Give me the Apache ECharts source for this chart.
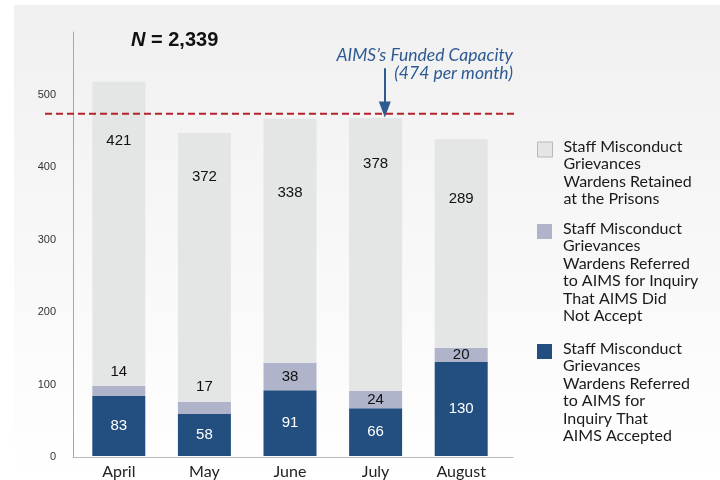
<!DOCTYPE html>
<html><head><meta charset="utf-8">
<script src="https://cdn.jsdelivr.net/npm/echarts@6/dist/echarts.min.js"></script>
<style>html,body{margin:0;padding:0;background:#fff}#c{width:720px;height:480px}</style>
</head><body><div id="c"></div>
<script>
// ---- data ----
const months = ['April', 'May', 'June', 'July', 'August'];
const accepted = [83, 58, 91, 66, 130];
const notAccepted = [14, 17, 38, 24, 20];
const retained = [421, 372, 338, 378, 289];
const fundedCapacity = 474;
const seriesNames = [
  'Staff Misconduct Grievances Wardens Retained at the Prisons',
  'Staff Misconduct Grievances Wardens Referred to AIMS for Inquiry That AIMS Did Not Accept',
  'Staff Misconduct Grievances Wardens Referred to AIMS for Inquiry That AIMS Accepted'
];
const legendLines = [
  ['Staff Misconduct', 'Grievances', 'Wardens Retained', 'at the Prisons'],
  ['Staff Misconduct', 'Grievances', 'Wardens Referred', 'to AIMS for Inquiry', 'That AIMS Did', 'Not Accept'],
  ['Staff Misconduct', 'Grievances', 'Wardens Referred', 'to AIMS for', 'Inquiry That', 'AIMS Accepted']
];
// ---- layout helpers (not data) ----
const notAcceptedLabelAbove = [true, true, false, false, false];
const retainedLabelDistance = [52, 36, 67, 38, 52];

const total = [...accepted, ...notAccepted, ...retained].reduce((a, b) => a + b, 0);
const YMAX = 587;
const numFont = 'Liberation Sans, Arial, sans-serif';
const textFont = 'Lato, sans-serif';

function mkLegend(name, lines, iconTop, bordered) {
  const L = 17.5, n = lines.length, d = 6;
  const X = (n - 1) * L - d;           // spacer line height so first line sits beside icon
  const boxTop = iconTop + 7.5 - (X + n * L) / 2;
  return {
    data: [name], orient: 'vertical', left: 537, top: boxTop, padding: 0,
    itemWidth: 15, itemHeight: 15, icon: 'rect', selectedMode: false,
    formatter: () => '{p|\u00a0}\n' + lines.map(s => '{t|' + s + '}').join('\n'),
    textStyle: { fontFamily: textFont, fontSize: 16, color: '#1a1a1a', lineHeight: L,
      rich: {
        p: { fontSize: 2, lineHeight: X, height: X, padding: [0, 0, 0, 6] },
        t: { fontFamily: textFont, fontSize: 16, color: '#1a1a1a', lineHeight: L, height: L, padding: [0, 0, 0, 6] }
      } },
    itemStyle: bordered ? { borderColor: '#b9b9b9', borderWidth: 1 } : { borderWidth: 0 }
  };
}

const annotFont = 'italic 17.5px Lato, sans-serif';
const chart = echarts.init(document.getElementById('c'), null, { renderer: 'canvas' });
chart.setOption({
  animation: false,
  backgroundColor: '#ffffff',
  graphic: [
    { type: 'rect', left: 14, top: 5, z: -10, silent: true,
      shape: { width: 706, height: 475 },
      style: { fill: new echarts.graphic.LinearGradient(0, 0, 0, 1, [
        { offset: 0, color: '#f0f0f0' }, { offset: 1, color: '#ffffff' }]) } },
    { type: 'text', right: 207, top: 46, silent: true,
      style: { text: 'AIMS\u2019s Funded Capacity', font: annotFont, fill: '#2d5a91' } },
    { type: 'text', right: 207, top: 64, silent: true,
      style: { text: '(' + fundedCapacity + ' per month)', font: annotFont, fill: '#2d5a91' } }
  ],
  title: {
    text: '{i|N} = ' + total.toLocaleString('en-US'),
    left: 131, top: 30, padding: 0,
    textStyle: { fontFamily: numFont, fontSize: 20, fontWeight: 'bold', color: '#111',
      rich: { i: { fontFamily: numFont, fontSize: 20, fontWeight: 'bold', fontStyle: 'italic', color: '#111' } } }
  },
  legend: [
    mkLegend(seriesNames[0], legendLines[0], 142, true),
    mkLegend(seriesNames[1], legendLines[1], 224, false),
    mkLegend(seriesNames[2], legendLines[2], 344, false)
  ],
  grid: [
    { left: 76, width: 428, top: 32, height: 425 },
    { left: 73, width: 440, top: 32, height: 425 },
    { left: 45, width: 472, top: 32, height: 425 }
  ],
  xAxis: [
    { gridIndex: 0, type: 'category', data: months,
      axisLine: { show: false }, axisTick: { show: false },
      axisLabel: { margin: 8, fontSize: 16, fontFamily: textFont, color: '#222' } },
    { gridIndex: 1, type: 'value', min: 0, max: 1,
      axisLine: { show: true, onZero: false, lineStyle: { color: '#b8b8b8', width: 1 } },
      axisTick: { show: false }, axisLabel: { show: false }, splitLine: { show: false } },
    { gridIndex: 2, type: 'value', min: 0, max: 1, show: false, splitLine: { show: false } }
  ],
  yAxis: [
    { gridIndex: 0, type: 'value', min: 0, max: YMAX, show: false, splitLine: { show: false } },
    { gridIndex: 1, type: 'value', min: 0, max: YMAX, interval: 100,
      axisLine: { show: true, onZero: false, lineStyle: { color: '#a8a8a8', width: 1 } },
      axisTick: { show: false }, splitLine: { show: false },
      axisLabel: { showMaxLabel: false, margin: 17, color: '#333', fontSize: 11, fontFamily: numFont } },
    { gridIndex: 2, type: 'value', min: 0, max: YMAX, show: false, splitLine: { show: false } }
  ],
  series: [
    { name: seriesNames[2], type: 'bar', stack: 'm', xAxisIndex: 0, yAxisIndex: 0,
      barWidth: 53, data: accepted, itemStyle: { color: '#234f80' },
      label: { show: true, position: 'inside', color: '#ffffff', fontSize: 15, fontFamily: numFont } },
    { name: seriesNames[1], type: 'bar', stack: 'm', xAxisIndex: 0, yAxisIndex: 0,
      barWidth: 53, itemStyle: { color: '#afb4cb' },
      data: notAccepted.map((v, i) => notAcceptedLabelAbove[i]
        ? { value: v, label: { position: 'top', distance: 7 } } : { value: v }),
      label: { show: true, position: 'inside', color: '#111', fontSize: 15, fontFamily: numFont } },
    { name: seriesNames[0], type: 'bar', stack: 'm', xAxisIndex: 0, yAxisIndex: 0,
      barWidth: 53, itemStyle: { color: '#e4e5e5' },
      data: retained.map((v, i) => ({ value: v, label: { distance: retainedLabelDistance[i] } })),
      label: { show: true, position: 'insideTop', color: '#111', fontSize: 15, fontFamily: numFont } },
    { type: 'line', xAxisIndex: 2, yAxisIndex: 2, silent: true, z: 5,
      data: [[0, fundedCapacity], [1, fundedCapacity]], symbol: 'none',
      lineStyle: { color: '#b3232b', width: 2, type: [7, 4] },
      markLine: {
        silent: true, animation: false, label: { show: false },
        lineStyle: { color: '#2f5a8f', width: 2, type: 'solid' },
        data: [[
          { coord: [0.72, 537], symbol: 'none' },
          { coord: [0.72, 480], symbol: 'triangle', symbolSize: [12, 16] }
        ]]
      } }
  ]
});
</script>
</body></html>
